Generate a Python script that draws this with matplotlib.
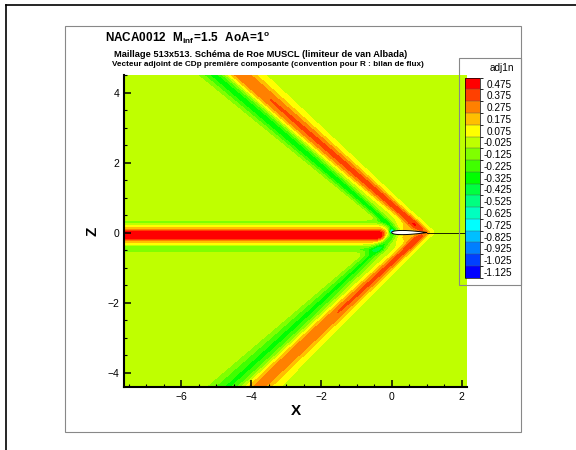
import numpy as np
import matplotlib
matplotlib.use("Agg")
import matplotlib.pyplot as plt
from matplotlib.colors import ListedColormap, BoundaryNorm
from matplotlib.cm import ScalarMappable
from matplotlib.patches import Rectangle
from matplotlib.lines import Line2D

plt.rcParams['font.family'] = ['Liberation Sans', 'DejaVu Sans']
plt.rcParams['mathtext.fontset'] = 'custom'
plt.rcParams['mathtext.rm'] = 'Liberation Sans'
plt.rcParams['mathtext.bf'] = 'Liberation Sans:bold'

# legend levels (adj1n)
levels = [0.475, 0.375, 0.275, 0.175, 0.075, -0.025, -0.125, -0.225, -0.325,
          -0.425, -0.525, -0.625, -0.725, -0.825, -0.925, -1.025, -1.125]

# axis ranges / ticks
x_range = [-7.62, 2.14]
z_range = [-4.42, 4.5]
x_ticks = [-6, -4, -2, 0, 2]
z_ticks = [-4, -2, 0, 2, 4]

# Mach bands: [upper, lower]
mach_angle = [40.8, 42.8]
mach_apex_x = [0.93, 0.93]
mach_pos_amp = [0.37, 0.36]          # at the apex
mach_pos_decay = [0.007, 0.010]      # amplitude loss per unit length
mach_pos_w0 = [0.08, 0.08]           # width at apex
mach_pos_dw = [0.019, 0.02]          # widening per unit length
mach_neg_amp = [-0.34, -0.30]
mach_neg_off = [-0.48, -0.55]
mach_neg_w0 = [0.07, 0.08]
mach_neg_dw = [0.016, 0.025]

# upstream wake band along z ~ 0: [core, upper fringe, lower fringe]
wake_z = [-0.07, 0.30, -0.47]
wake_amp = [0.62, -0.12, -0.18]
wake_w = [0.12, 0.06, 0.08]
wake_end_x = -0.22

# blobs: x, z, amplitude, width x, width z
blob_x = [0.0, 0.4]
blob_z = [0.03, 0.0]
blob_amp = [-0.9, 0.18]
blob_wx = [0.05, 0.25]
blob_wz = [0.05, 0.22]

# NACA0012 half thickness
foil_x = [0, 0.0125, 0.025, 0.05, 0.075, 0.1, 0.15, 0.2, 0.3, 0.4, 0.5,
          0.6, 0.7, 0.8, 0.9, 0.95, 1.0]
foil_t = [0, 0.01894, 0.02615, 0.03555, 0.04200, 0.04683, 0.05345, 0.05737,
          0.06002, 0.05803, 0.05294, 0.04563, 0.03664, 0.02623, 0.01448,
          0.00807, 0.00126]


def gauss(d, w):
    return np.exp(-0.5 * (d / w) ** 2)


def sig(v, w):
    return 1.0 / (1.0 + np.exp(-v / w))


# build the field
X, Z = np.meshgrid(np.linspace(x_range[0], x_range[1], 700),
                   np.linspace(z_range[0], z_range[1], 640))
F = np.zeros_like(X)
for i, side in enumerate([1, -1]):
    th = np.radians(mach_angle[i])
    s = (X - mach_apex_x[i]) * np.sin(th) + side * Z * np.cos(th)
    t = np.clip(-(X - mach_apex_x[i]) * np.cos(th) + side * Z * np.sin(th), 0, None)
    wp = mach_pos_w0[i] + mach_pos_dw[i] * t
    wn = mach_neg_w0[i] + mach_neg_dw[i] * t
    band = ((mach_pos_amp[i] - mach_pos_decay[i] * t) * gauss(s, wp)
            + mach_neg_amp[i] * gauss(s - mach_neg_off[i], wn))
    F += band * sig(side * Z - 0.02, 0.04)
wake = sum(a * gauss(Z - zc, w) for zc, a, w in zip(wake_z, wake_amp, wake_w))
F += wake * sig(wake_end_x - X, 0.06)
for bx, bz, ba, bwx, bwz in zip(blob_x, blob_z, blob_amp, blob_wx, blob_wz):
    F += ba * gauss(X - bx, bwx) * gauss(Z - bz, bwz)

# tecplot-like rainbow
lv = np.array(levels)
frac = (lv - lv.min()) / (lv.max() - lv.min())
anchors = [0, 0.25, 0.5, 0.75, 1.0]
rgb = np.array([[0, 0, 1], [0, 1, 1], [0, 1, 0], [1, 1, 0], [1, 0, 0]])
cols = np.column_stack([np.interp(frac, anchors, rgb[:, k]) for k in range(3)])
order = np.argsort(lv)
cmap = ListedColormap(cols[order])
bounds = np.concatenate([np.sort(lv) - 0.05, [lv.max() + 0.05]])
norm = BoundaryNorm(bounds, cmap.N)

fig = plt.figure(figsize=(5.76, 4.5), dpi=100)


def px(x):
    return x / 576.0


def py(y):
    return 1 - y / 450.0


ax = fig.add_axes([px(124.3), py(387.3), px(466.7) - px(124.3), py(75) - py(387.3)])
ax.contourf(X, Z, np.clip(F, bounds[0] + 1e-3, bounds[-1] - 1e-3),
            levels=bounds, cmap=cmap, norm=norm)

# airfoil + cut line
fx = np.array(foil_x)
ft = np.array(foil_t)
ax.fill(np.concatenate([fx, fx[::-1]]), np.concatenate([ft, -ft[::-1]]),
        facecolor='white', edgecolor='black', linewidth=0.7, zorder=3)
ax.plot([1.0, x_range[1]], [0, 0], color='black', linewidth=0.6, zorder=3)

ax.set_xlim(x_range)
ax.set_ylim(z_range)
ax.set_xticks(x_ticks)
ax.set_yticks(z_ticks)
ax.set_xticks(np.arange(-7.5, 2.1, 0.5), minor=True)
ax.set_yticks(np.arange(-4.0, 4.6, 0.5), minor=True)
ax.tick_params(which='major', direction='in', length=4.8, width=1.1,
               labelsize=7.5, pad=3.5)
ax.tick_params(which='minor', direction='in', length=2.4, width=0.8)
for sp in ['top', 'right']:
    ax.spines[sp].set_visible(False)
for sp in ['left', 'bottom']:
    ax.spines[sp].set_linewidth(1.5)
ax.set_xlabel('X', fontsize=11, fontweight='bold', labelpad=1)
ax.set_ylabel('Z', fontsize=11, fontweight='bold', labelpad=6)

# legend
cax = fig.add_axes([px(465), py(277.7), px(15), py(77.7) - py(277.7)])
cb = fig.colorbar(ScalarMappable(norm=norm, cmap=cmap), cax=cax,
                  drawedges=True)
cb.dividers.set_color('#555555')
cb.dividers.set_linewidth(0.3)
cb.outline.set_linewidth(0.5)
cb.set_ticks(levels)
cb.set_ticklabels(['%.3f' % v for v in levels])
cax.tick_params(length=0, labelsize=7.2, pad=23)
for t in cax.get_yticklabels():
    t.set_horizontalalignment('right')
fig.text(px(501.7), py(68.3), 'adj1n', fontsize=7.2, ha='center', va='center')

# titles
fig.text(px(105), py(42), r'$\mathbf{NACA0012\ \ M_{inf}\!=\!1.5\ \ AoA\!=\!1^{o}}$',
         fontsize=8.5, va='baseline')
fig.text(px(114), py(56.7),
         'Maillage 513x513. Schéma de Roe MUSCL (limiteur de van Albada)',
         fontsize=6.65, fontweight='bold', va='baseline')
fig.text(px(112), py(65.7),
         'Vecteur adjoint de CDp première composante (convention pour R : bilan de flux)',
         fontsize=5.9, fontweight='bold', va='baseline')

# frames
fig.add_artist(Line2D([px(6), 1], [py(5), py(5)], color='black', linewidth=1.2))
fig.add_artist(Line2D([px(6), px(6)], [py(5), 0], color='black', linewidth=1.2))
fig.add_artist(Rectangle((px(65), py(432)), px(521) - px(65), py(26) - py(432),
                         fill=False, edgecolor='#888888', linewidth=0.8))
fig.add_artist(Rectangle((px(459), py(285)), px(521) - px(459), py(58) - py(285),
                         fill=False, edgecolor='#888888', linewidth=0.8, zorder=5))

fig.savefig('out.png', dpi=100)
